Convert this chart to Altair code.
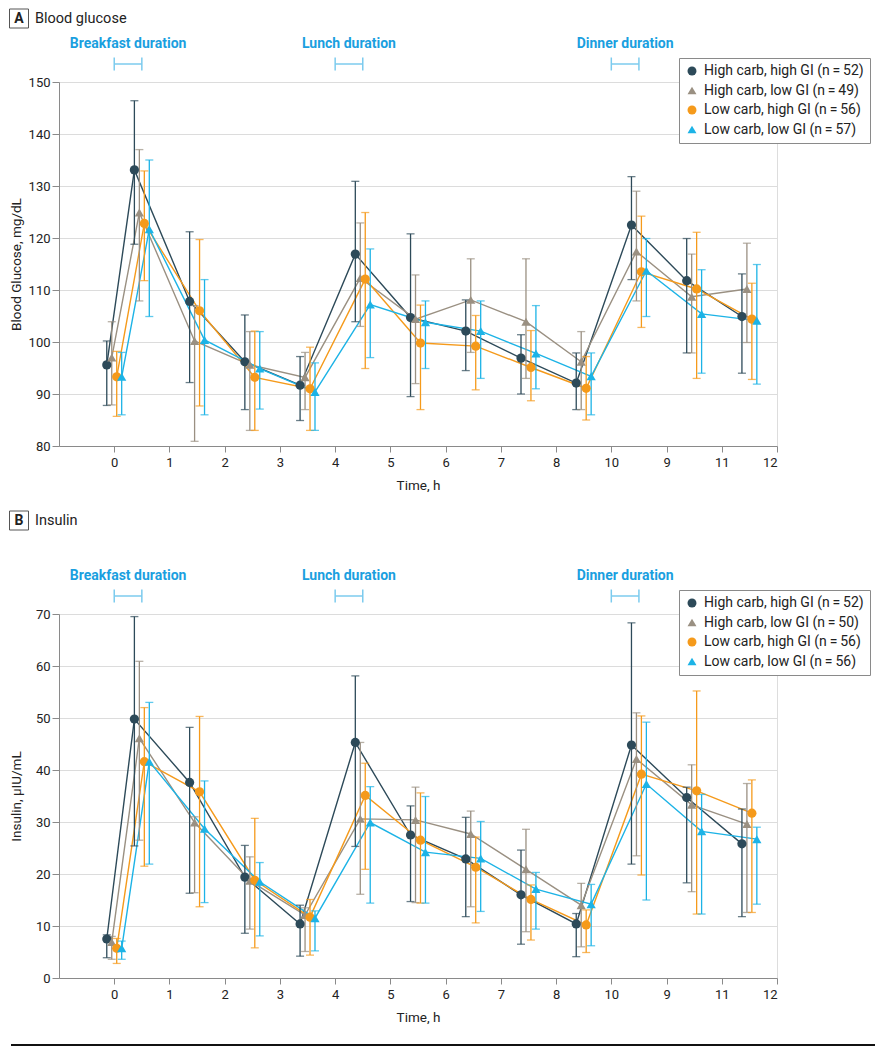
import altair as alt
import pandas as pd

FONT = "Roboto"

# ---------------- data ----------------
times = [0, 0.5, 1.5, 2.5, 3.5, 4.5, 5.5, 6.5, 7.5, 8.5, 9.5, 10.5, 11.5]
series = ["High carb, high GI", "High carb, low GI", "Low carb, high GI", "Low carb, low GI"]
glu_n = [52, 49, 56, 57]
ins_n = [52, 50, 56, 56]

# Blood glucose, mg/dL (point, lower, upper)
glu_hh = [95.6, 133.1, 107.8, 96.2, 91.7, 116.9, 104.7, 102.1, 96.9, 92.1, 122.5, 111.8, 104.9]
glu_hh_lo = [87.8, 118.8, 92.2, 87.0, 84.9, 103.9, 89.5, 94.5, 90.0, 87.0, 112.0, 97.9, 94.0]
glu_hh_hi = [100.2, 146.4, 121.2, 105.2, 97.2, 130.9, 120.8, 108.1, 101.4, 97.9, 131.8, 119.9, 113.1]

glu_hl = [97.0, 124.9, 100.2, 95.6, 93.2, 112.3, 104.4, 108.1, 103.9, 96.2, 117.4, 108.7, 110.2]
glu_hl_lo = [87.9, 107.9, 80.9, 83.0, 87.0, 103.0, 92.0, 98.0, 93.0, 87.0, 107.9, 97.9, 99.9]
glu_hl_hi = [103.9, 137.0, 107.0, 102.0, 98.0, 122.9, 112.9, 116.0, 116.0, 102.0, 129.0, 116.9, 119.0]

glu_lh = [93.3, 122.8, 106.0, 93.2, 91.0, 112.1, 99.8, 99.2, 95.1, 91.1, 113.5, 110.2, 104.4]
glu_lh_lo = [85.7, 111.8, 87.7, 83.0, 83.0, 94.9, 87.0, 90.8, 88.7, 85.0, 102.8, 93.0, 92.8]
glu_lh_hi = [98.2, 132.9, 119.7, 102.1, 99.0, 124.9, 107.1, 105.1, 102.2, 97.2, 124.2, 121.1, 111.3]

glu_ll = [93.3, 121.7, 100.4, 94.9, 90.4, 107.2, 103.8, 102.1, 97.8, 93.4, 113.7, 105.4, 104.1]
glu_ll_lo = [86.0, 104.9, 86.0, 87.1, 83.0, 97.0, 94.9, 93.0, 91.0, 86.0, 104.9, 94.0, 91.9]
glu_ll_hi = [98.0, 135.0, 112.0, 102.0, 96.0, 117.9, 107.9, 107.9, 107.0, 97.9, 119.9, 113.9, 114.9]

# Insulin, uIU/mL (point, lower, upper)
ins_hh = [7.5, 49.8, 37.6, 19.4, 10.4, 45.3, 27.5, 22.9, 16.0, 10.4, 44.8, 34.7, 25.8]
ins_hh_lo = [3.9, 25.4, 16.3, 8.6, 4.2, 25.3, 14.7, 11.8, 6.5, 4.1, 21.9, 18.3, 11.8]
ins_hh_hi = [8.3, 69.5, 48.2, 25.5, 14.0, 58.1, 33.1, 30.9, 24.6, 12.4, 68.3, 36.7, 32.5]

ins_hl = [6.9, 46.1, 29.9, 18.7, 12.1, 30.6, 30.4, 27.7, 20.9, 14.0, 42.1, 33.3, 29.6]
ins_hl_lo = [3.6, 26.5, 16.4, 9.4, 5.1, 16.1, 14.5, 13.7, 8.9, 6.0, 23.5, 16.6, 12.6]
ins_hl_hi = [8.0, 60.9, 31.0, 23.3, 13.5, 45.3, 36.7, 32.1, 28.6, 18.2, 51.0, 41.0, 37.4]

ins_lh = [5.7, 41.6, 35.8, 18.8, 11.7, 35.1, 26.5, 21.3, 15.1, 10.2, 39.2, 36.0, 31.7]
ins_lh_lo = [2.8, 21.5, 13.7, 5.8, 4.4, 20.9, 14.4, 10.6, 7.3, 4.9, 19.8, 12.3, 12.6]
ins_lh_hi = [7.6, 52.0, 50.3, 30.7, 15.1, 41.3, 35.6, 27.1, 17.9, 13.1, 50.4, 55.2, 38.1]

ins_ll = [5.7, 41.6, 28.7, 18.5, 11.5, 29.9, 24.2, 23.0, 17.1, 14.2, 37.3, 28.2, 26.7]
ins_ll_lo = [3.6, 21.9, 14.5, 8.1, 5.2, 14.4, 14.4, 12.8, 9.4, 6.2, 15.0, 12.3, 14.2]
ins_ll_hi = [7.1, 53.0, 37.9, 22.2, 12.9, 36.8, 34.9, 30.1, 20.3, 18.0, 49.2, 35.3, 29.0]

meal_names = ["Breakfast duration", "Lunch duration", "Dinner duration"]
meal_start = [0, 4, 9]
meal_end = [0.5, 4.5, 9.5]

x_tick_values = list(range(0, 13))
x_tick_labels = ["0", "1", "2", "3", "4", "5", "6", "7", "8", "10", "9", "11", "12"]
glu_ticks = [80, 90, 100, 110, 120, 130, 140, 150]
ins_ticks = [0, 10, 20, 30, 40, 50, 60, 70]

# ---------------- style ----------------
colors = ["#2d4a59", "#9a9082", "#f59a1b", "#1cb3e6"]
shapes = ["circle", "triangle-up", "circle", "triangle-up"]
dodge = [-0.135, -0.045, 0.045, 0.135]
MEAL_TEXT = "#1a9fdf"
MEAL_BAR = "#7ccbee"
INK = "#222222"
AXIS_C = "#8a8a8a"

label_expr = "[" + ",".join("'%s'" % l for l in x_tick_labels) + "][datum.value]"


def key_label(name, n):
    return "%s (n\u2009=\u2009%d)" % (name, n)


def build_df(vals, los, his, ns):
    rows = []
    for i, name in enumerate(series):
        lab = key_label(name, ns[i])
        for j, t in enumerate(times):
            rows.append({"key": lab, "s": name, "t": t, "x": t + dodge[i],
                         "v": vals[i][j], "lo": los[i][j], "hi": his[i][j]})
    return pd.DataFrame(rows)


meal_df = pd.DataFrame({"meal": meal_names, "start": meal_start, "end": meal_end})
one = pd.DataFrame({"a": [0]})

xscale = alt.Scale(domain=[-1, 12], nice=False, zero=False)
xaxis = alt.Axis(values=x_tick_values, labelExpr=label_expr, title="Time, h",
                 grid=False, domainColor=AXIS_C, tickColor=AXIS_C, tickSize=6,
                 labelPadding=4, labelFontSize=13, labelColor=INK, labelFont=FONT,
                 titleFont=FONT, titleFontSize=13.5, titleFontWeight="normal",
                 titleColor=INK, titlePadding=9)


def X(field):
    return alt.X(field, type="quantitative", scale=xscale, axis=xaxis)


def panel(df, ydomain, yticks, ytitle, labels):
    yscale = alt.Scale(domain=ydomain, nice=False, zero=False)
    yaxis = alt.Axis(values=yticks, title=ytitle, grid=True, gridColor="#dcdcdc",
                     domainColor=AXIS_C, tickColor=AXIS_C, tickSize=7,
                     labelPadding=2, labelFontSize=13, labelColor=INK, labelFont=FONT,
                     titleFont=FONT, titleFontSize=13.5, titleFontWeight="normal",
                     titleColor=INK, titleX=-43, titleBaseline="middle")
    cscale = alt.Scale(domain=labels, range=colors)
    sscale = alt.Scale(domain=labels, range=shapes)
    lscale = alt.Scale(domain=series, range=colors)
    legend = alt.Legend(title=None, orient="none", legendX=620, legendY=-24,
                        strokeColor=AXIS_C, fillColor="white", padding=6,
                        labelFontSize=14, labelFont=FONT, labelColor=INK,
                        labelOffset=5, symbolSize=80, rowPadding=5.5, labelLimit=400)
    base = alt.Chart(df)
    stroke_nl = alt.Stroke("s:N", scale=lscale, legend=None)
    fill_nl = alt.Fill("s:N", scale=lscale, legend=None)

    lines = base.mark_line(strokeWidth=1.4).encode(
        x=X("x"), y=alt.Y("v:Q", scale=yscale, axis=yaxis), stroke=stroke_nl, detail="s:N")
    rules = base.mark_rule(strokeWidth=1.3).encode(
        x=X("x"), y=alt.Y("lo:Q", scale=yscale, axis=yaxis), y2="hi:Q", stroke=stroke_nl)
    cap_lo = base.mark_tick(orient="horizontal", size=8, thickness=1.3).encode(
        x=X("x"), y=alt.Y("lo:Q", scale=yscale, axis=yaxis), fill=fill_nl)
    cap_hi = base.mark_tick(orient="horizontal", size=8, thickness=1.3).encode(
        x=X("x"), y=alt.Y("hi:Q", scale=yscale, axis=yaxis), fill=fill_nl)
    pts = base.mark_point(filled=True, size=85, opacity=1).encode(
        x=X("x"), y=alt.Y("v:Q", scale=yscale, axis=yaxis),
        color=alt.Color("key:N", scale=cscale, legend=legend),
        shape=alt.Shape("key:N", scale=sscale, legend=legend))

    mbase = alt.Chart(meal_df)
    mtext = mbase.transform_calculate(mid="(datum.start + datum.end) / 2").mark_text(
        font=FONT, fontSize=14, fontWeight="bold", color=MEAL_TEXT).encode(
        x=X("mid"), y=alt.value(-38), text="meal:N")
    mbar = mbase.mark_rule(color=MEAL_BAR, strokeWidth=1.5).encode(
        x=X("start"), x2="end:Q", y=alt.value(-18))
    mcaps = mbase.transform_fold(["start", "end"], as_=["which", "pos"]).mark_rule(
        color=MEAL_BAR, strokeWidth=1.5).encode(
        x=X("pos"), y=alt.value(-24.5), y2=alt.value(-11.5))

    return [lines, rules, cap_lo, cap_hi, pts, mtext, mbar, mcaps]


def header(letter, heading, top):
    hb = alt.Chart(one)
    box = hb.mark_rect(fill="white", stroke="#555", strokeWidth=1).encode(
        x=alt.value(-49.5), x2=alt.value(-30.5), y=alt.value(top), y2=alt.value(top + 19))
    ltr = hb.mark_text(font=FONT, fontSize=14, fontWeight="bold", color=INK).encode(
        x=alt.value(-40), y=alt.value(top + 10), text=alt.value(letter))
    ttl = hb.mark_text(font=FONT, fontSize=14.5, align="left", color=INK).encode(
        x=alt.value(-24), y=alt.value(top + 10), text=alt.value(heading))
    return [box, ltr, ttl]


glu_df = build_df([glu_hh, glu_hl, glu_lh, glu_ll],
                  [glu_hh_lo, glu_hl_lo, glu_lh_lo, glu_ll_lo],
                  [glu_hh_hi, glu_hl_hi, glu_lh_hi, glu_ll_hi], glu_n)
ins_df = build_df([ins_hh, ins_hl, ins_lh, ins_ll],
                  [ins_hh_lo, ins_hl_lo, ins_lh_lo, ins_ll_lo],
                  [ins_hh_hi, ins_hl_hi, ins_lh_hi, ins_ll_hi], ins_n)

glu_labels = [key_label(s, n) for s, n in zip(series, glu_n)]
ins_labels = [key_label(s, n) for s, n in zip(series, ins_n)]

layersA = panel(glu_df, [80, 150], glu_ticks, "Blood Glucose, mg/dL", glu_labels)
layersB = panel(ins_df, [0, 70], ins_ticks, "Insulin, \u00b5IU/mL", ins_labels)

chartA = alt.layer(*layersA, *header("A", "Blood glucose", -73)).properties(
    width=718, height=364)
bottom_rule = alt.Chart(one).mark_rule(color="#111", strokeWidth=2).encode(
    x=alt.value(-48), x2=alt.value(816), y=alt.value(431))
chartB = alt.layer(*layersB, *header("B", "Insulin", -103), bottom_rule).properties(
    width=718, height=364)

chart = alt.vconcat(chartA, chartB, spacing=18).resolve_scale(
    color="independent", shape="independent", stroke="independent",
    fill="independent").resolve_legend(
    color="independent", shape="independent").properties(
    padding=0).configure_view(stroke=None).configure(font=FONT)

chart.save("out.html", embed_options={"renderer": "svg", "actions": False})
